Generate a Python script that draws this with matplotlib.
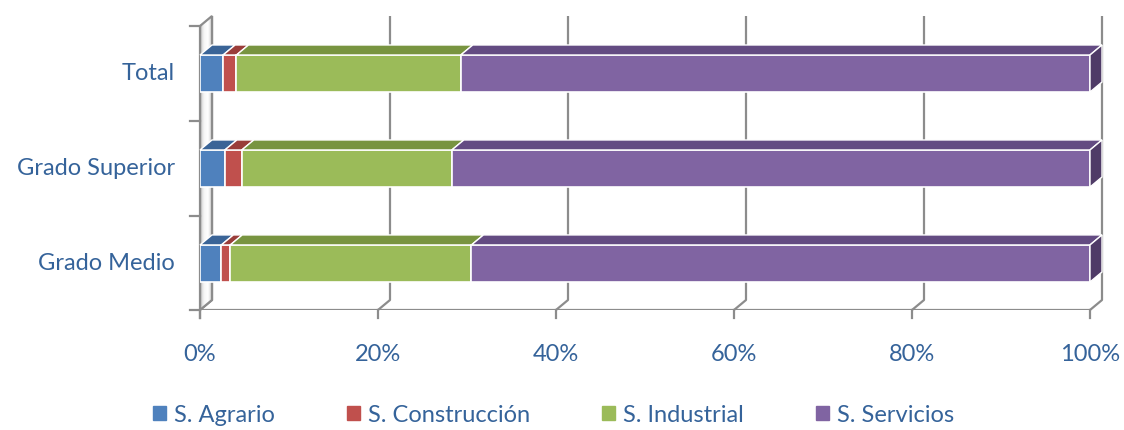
import matplotlib
matplotlib.use("Agg")
import matplotlib.pyplot as plt
from matplotlib.patches import Polygon
from matplotlib.colors import LinearSegmentedColormap
import numpy as np

categories = ["Grado Medio", "Grado Superior", "Total"]
series = ["S. Agrario", "S. Construcción", "S. Industrial", "S. Servicios"]
agrario = [2.4, 2.8, 2.6]
construccion = [1.0, 1.9, 1.5]
industrial = [27.1, 23.6, 25.2]
servicios = [69.5, 71.7, 70.7]
xticks = [0, 20, 40, 60, 80, 100]
xticklabels = ["0%", "20%", "40%", "60%", "80%", "100%"]

front = ["#4F81BD", "#C0504D", "#9BBB59", "#8064A2"]
top = ["#3A6497", "#9A3D3A", "#789440", "#634B82"]
side = ["#2F5179", "#7D302E", "#5F7633", "#4F3B67"]
text_col = "#35639A"
grid_col = "#8C8C8C"

plt.rcParams['font.family'] = ['Lato', 'DejaVu Sans']

fig = plt.figure(figsize=(11.24, 4.30), dpi=100)
ax = fig.add_axes([200 / 1124, 120 / 430, 890 / 1124, 295 / 430])
ax.set_xlim(0, 100)
ax.set_ylim(-0.49, 2.616)
ax.axis("off")

# depth of the 3D effect, in data units
dx = 12 / 8.9
dy = 10 / 95
ybot = -0.49
ytop = 2.616 - 1 / 95
h = 0.39

# back gridlines + slant to floor
for v in xticks:
    ax.plot([v + dx, v + dx, v], [ytop, ybot + dy, ybot], color=grid_col, lw=1.6,
            solid_capstyle="butt", clip_on=False, zorder=1)
    ax.plot([v, v], [ybot, ybot - 8 / 95], color=grid_col, lw=1.6, clip_on=False, zorder=1)

# floor front edge
ax.plot([0, 100], [ybot, ybot], color=grid_col, lw=1.6, zorder=1)

# left wall with gradient
wall_top_front = ytop - dy
wall_cmap = LinearSegmentedColormap.from_list("wall", ["#C4C4C4", "#F6F6F6", "#FFFFFF", "#D0D0D0"])
grad = np.linspace(0, 1, 50).reshape(1, -1)
im = ax.imshow(grad, cmap=wall_cmap, extent=[0, dx, ybot, ytop], aspect="auto", zorder=1.5)
wall = Polygon([(0, ybot), (0, wall_top_front), (dx, ytop), (dx, ybot + dy)],
               closed=True, facecolor="none", edgecolor=grid_col, lw=1.6, zorder=2)
ax.add_patch(wall)
im.set_clip_path(wall)
ax.plot([0, 0], [ybot - 8 / 95, wall_top_front], color=grid_col, lw=1.6, clip_on=False, zorder=2)
for yt in [ybot, 0.5, 1.5, wall_top_front]:
    ax.plot([-10 / 8.9, 0], [yt, yt], color=grid_col, lw=1.6, clip_on=False, zorder=2)

# stacked 3D bars
data = [agrario, construccion, industrial, servicios]
for i, cat in enumerate(categories):
    left = 0
    for s in range(len(series)):
        w = data[s][i]
        y0 = i - h / 2
        y1 = i + h / 2
        ax.barh(i, w, left=left, height=h, color=front[s], edgecolor="white",
                linewidth=1.2, zorder=3)
        ax.add_patch(Polygon([(left, y1), (left + dx, y1 + dy), (left + w + dx, y1 + dy),
                              (left + w, y1)], closed=True, facecolor=top[s],
                             edgecolor="white", lw=1.0, zorder=3, clip_on=False))
        if s == len(series) - 1:
            ax.add_patch(Polygon([(left + w, y0), (left + w, y1), (left + w + dx, y1 + dy),
                                  (left + w + dx, y0 + dy)], closed=True, facecolor=side[s],
                                 edgecolor="white", lw=1.0, zorder=3, clip_on=False))
        left += w

# labels
for i, cat in enumerate(categories):
    ax.text(-25 / 8.9, i, cat, ha="right", va="center", fontsize=17, color=text_col)
for v, lab in zip(xticks, xticklabels):
    ax.text(v, ybot - 45 / 95, lab, ha="center", va="center", fontsize=17, color=text_col)

handles = [plt.Rectangle((0, 0), 1, 1, color=c) for c in front]
fig.legend(handles, series, loc="center", bbox_to_anchor=(0.4925, 15 / 430), ncol=4,
           frameon=False, fontsize=17, handlelength=0.55, handleheight=0.55,
           columnspacing=3.05, handletextpad=0.35, labelcolor=text_col)

fig.savefig("out.png", dpi=100)
